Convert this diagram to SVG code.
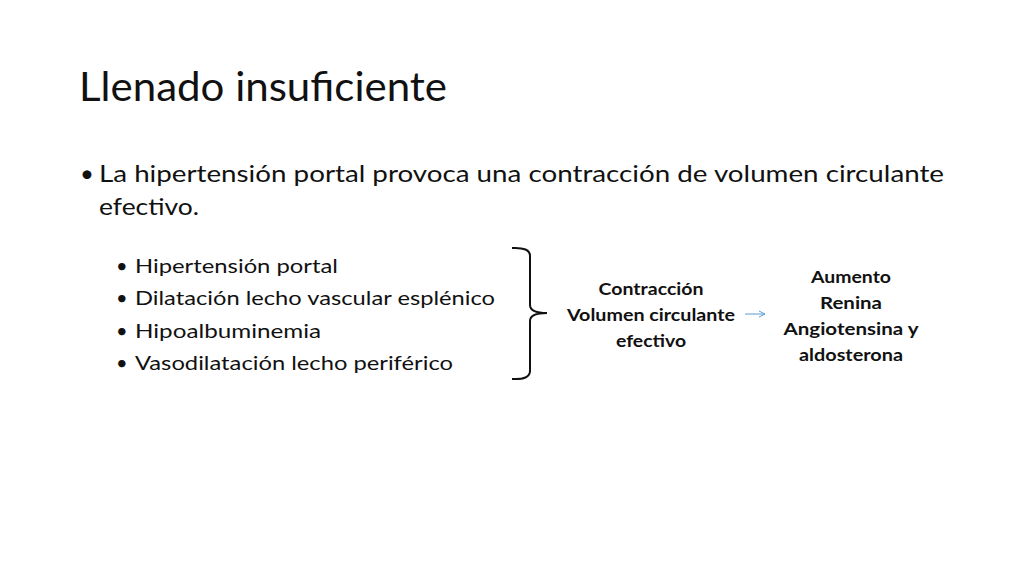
<svg xmlns="http://www.w3.org/2000/svg" width="1024" height="576" viewBox="0 0 1024 576">
<defs><style>
.t{font-family:Lato,"Open Sans",sans-serif;fill:#111}
.b{font-family:Lato,"Open Sans",sans-serif;font-weight:bold;font-size:17px;fill:#111;text-anchor:middle}
</style>
<marker id="ah" markerWidth="8" markerHeight="8" refX="7" refY="4" orient="auto" markerUnits="userSpaceOnUse"><path d="M1,1 L7,4 L1,7" fill="none" stroke="#5b9bd5" stroke-width="1"/></marker></defs>
<rect width="1024" height="576" fill="#fff"/>
<g id="title"><text class="t" x="79" y="101" font-size="40" textLength="368" lengthAdjust="spacingAndGlyphs">Llenado insuficiente</text></g>
<g id="bullets">
<text class="t" x="80" y="182" font-size="24">•</text>
<text class="t" x="99" y="182" font-size="24" textLength="845" lengthAdjust="spacingAndGlyphs">La hipertensión portal provoca una contracción de volumen circulante</text>
<text class="t" x="99" y="215" font-size="24" textLength="100" lengthAdjust="spacingAndGlyphs">efectivo.</text>
<g font-size="20">
<text class="t" x="116" y="273">•</text><text class="t" x="135" y="273" textLength="203" lengthAdjust="spacingAndGlyphs">Hipertensión portal</text>
<text class="t" x="116" y="305">•</text><text class="t" x="135" y="305" textLength="360" lengthAdjust="spacingAndGlyphs">Dilatación lecho vascular esplénico</text>
<text class="t" x="116" y="338">•</text><text class="t" x="135" y="338" textLength="186" lengthAdjust="spacingAndGlyphs">Hipoalbuminemia</text>
<text class="t" x="116" y="370">•</text><text class="t" x="135" y="370" textLength="318" lengthAdjust="spacingAndGlyphs">Vasodilatación lecho periférico</text>
</g></g>
<g id="contraccion">
<text class="b" x="651" y="295" textLength="105" lengthAdjust="spacingAndGlyphs">Contracción</text>
<text class="b" x="651" y="321" textLength="168" lengthAdjust="spacingAndGlyphs">Volumen circulante</text>
<text class="b" x="651" y="347" textLength="70" lengthAdjust="spacingAndGlyphs">efectivo</text>
</g>
<g id="aumento">
<text class="b" x="851" y="283" textLength="80" lengthAdjust="spacingAndGlyphs">Aumento</text>
<text class="b" x="851" y="309" textLength="62" lengthAdjust="spacingAndGlyphs">Renina</text>
<text class="b" x="851" y="335" textLength="135" lengthAdjust="spacingAndGlyphs">Angiotensina y</text>
<text class="b" x="851" y="361" textLength="104" lengthAdjust="spacingAndGlyphs">aldosterona</text>
</g>
<g id="connectors" fill="none">
<path d="M512,248 Q530,247 530,256 L530,305 Q530,313 547,313 Q530,313 530,321 L530,371 Q530,380 512,379" stroke="#111" stroke-width="2"/>
<line x1="745" y1="314" x2="765" y2="314" stroke="#5b9bd5" stroke-width="1" marker-end="url(#ah)"/>
</g>
</svg>
